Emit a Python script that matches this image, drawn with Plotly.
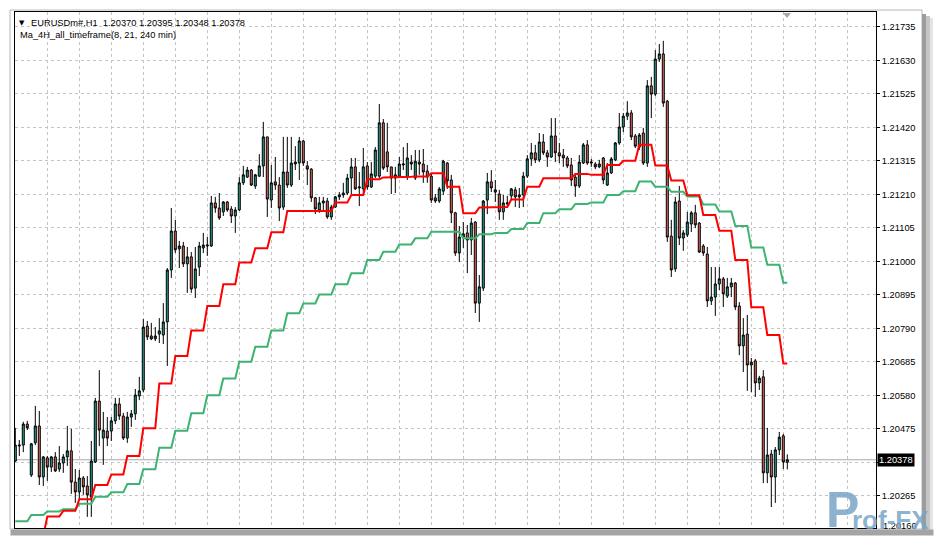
import plotly.graph_objects as go

# ---------------- data (EURUSD H1) ----------------
open_ = [1.20374, 1.20421, 1.20424, 1.20490, 1.20330, 1.20431, 1.20484, 1.20324, 1.20384, 1.20355,
         1.20387, 1.20349, 1.20368, 1.20387, 1.20406, 1.20308, 1.20277, 1.20321, 1.20296, 1.20261,
         1.20371, 1.20562, 1.20446, 1.20468, 1.20468, 1.20500, 1.20553, 1.20515, 1.20446, 1.20512,
         1.20522, 1.20578, 1.20597, 1.20797, 1.20766, 1.20757, 1.20772, 1.20769, 1.20810, 1.20973,
         1.21095, 1.21039, 1.21048, 1.20992, 1.21014, 1.20916, 1.20982, 1.21042, 1.21048, 1.21048,
         1.21183, 1.21167, 1.21155, 1.21186, 1.21164, 1.21142, 1.21161, 1.21246, 1.21264, 1.21286,
         1.21236, 1.21267, 1.21299, 1.21390, 1.21192, 1.21249, 1.21239, 1.21170, 1.21280, 1.21239,
         1.21305, 1.21308, 1.21377, 1.21299, 1.21289, 1.21199, 1.21161, 1.21183, 1.21189, 1.21139,
         1.21170, 1.21202, 1.21208, 1.21214, 1.21261, 1.21296, 1.21230, 1.21227, 1.21299, 1.21233,
         1.21267, 1.21267, 1.21434, 1.21343, 1.21296, 1.21261, 1.21267, 1.21302, 1.21264, 1.21311,
         1.21261, 1.21311, 1.21305, 1.21283, 1.21267, 1.21199, 1.21189, 1.21220, 1.21308, 1.21255,
         1.21152, 1.21026, 1.21076, 1.21089, 1.21067, 1.21123, 1.20869, 1.20916, 1.21192, 1.21249,
         1.21217, 1.21211, 1.21155, 1.21180, 1.21205, 1.21224, 1.21202, 1.21208, 1.21267, 1.21321,
         1.21340, 1.21318, 1.21374, 1.21340, 1.21327, 1.21393, 1.21340, 1.21333, 1.21324, 1.21302,
         1.21264, 1.21236, 1.21308, 1.21365, 1.21308, 1.21305, 1.21296, 1.21324, 1.21239, 1.21277,
         1.21318, 1.21371, 1.21421, 1.21455, 1.21465, 1.21393, 1.21358, 1.21402, 1.21308, 1.21550,
         1.21524, 1.21634, 1.21650, 1.21502, 1.21079, 1.20976, 1.21189, 1.21073, 1.21083, 1.21117,
         1.21152, 1.21120, 1.21048, 1.21023, 1.20876, 1.20888, 1.20929, 1.20945, 1.20891, 1.20920,
         1.20932, 1.20860, 1.20735, 1.20772, 1.20675, 1.20688, 1.20619, 1.20638, 1.20337, 1.20396,
         1.20324, 1.20409, 1.20453, 1.20370]

high = [1.20478, 1.20440, 1.20497, 1.20500, 1.20431, 1.20547, 1.20531, 1.20390, 1.20390, 1.20390,
        1.20402, 1.20421, 1.20396, 1.20484, 1.20475, 1.20349, 1.20346, 1.20327, 1.20327, 1.20437,
        1.20572, 1.20659, 1.20528, 1.20512, 1.20512, 1.20572, 1.20572, 1.20525, 1.20528, 1.20534,
        1.20600, 1.20638, 1.20819, 1.20813, 1.20807, 1.20794, 1.20822, 1.20869, 1.20979, 1.21167,
        1.21130, 1.21064, 1.21061, 1.21045, 1.21029, 1.21045, 1.21061, 1.21089, 1.21076, 1.21205,
        1.21202, 1.21214, 1.21189, 1.21189, 1.21173, 1.21170, 1.21264, 1.21299, 1.21296, 1.21289,
        1.21274, 1.21336, 1.21437, 1.21390, 1.21302, 1.21327, 1.21264, 1.21390, 1.21390, 1.21390,
        1.21361, 1.21390, 1.21380, 1.21314, 1.21292, 1.21202, 1.21202, 1.21202, 1.21199, 1.21177,
        1.21205, 1.21217, 1.21246, 1.21274, 1.21324, 1.21324, 1.21280, 1.21355, 1.21311, 1.21311,
        1.21358, 1.21493, 1.21446, 1.21434, 1.21296, 1.21296, 1.21327, 1.21358, 1.21371, 1.21333,
        1.21349, 1.21349, 1.21352, 1.21302, 1.21277, 1.21211, 1.21233, 1.21318, 1.21311, 1.21271,
        1.21155, 1.21111, 1.21123, 1.21114, 1.21136, 1.21126, 1.20957, 1.21192, 1.21277, 1.21286,
        1.21255, 1.21224, 1.21208, 1.21205, 1.21230, 1.21233, 1.21230, 1.21280, 1.21333, 1.21371,
        1.21365, 1.21402, 1.21399, 1.21349, 1.21449, 1.21449, 1.21371, 1.21352, 1.21330, 1.21324,
        1.21274, 1.21333, 1.21371, 1.21380, 1.21321, 1.21311, 1.21318, 1.21327, 1.21308, 1.21327,
        1.21374, 1.21465, 1.21465, 1.21502, 1.21474, 1.21399, 1.21402, 1.21418, 1.21568, 1.21578,
        1.21662, 1.21681, 1.21691, 1.21506, 1.21130, 1.21202, 1.21236, 1.21098, 1.21155, 1.21158,
        1.21177, 1.21123, 1.21054, 1.21045, 1.20982, 1.20982, 1.20982, 1.20951, 1.20948, 1.20948,
        1.20935, 1.20872, 1.20822, 1.20832, 1.20697, 1.20694, 1.20641, 1.20659, 1.20478, 1.20409,
        1.20418, 1.20465, 1.20459, 1.20395]

low = [1.20371, 1.20390, 1.20402, 1.20471, 1.20324, 1.20424, 1.20299, 1.20296, 1.20312, 1.20340,
       1.20340, 1.20340, 1.20337, 1.20359, 1.20271, 1.20243, 1.20252, 1.20268, 1.20199, 1.20199,
       1.20368, 1.20421, 1.20362, 1.20421, 1.20437, 1.20490, 1.20503, 1.20440, 1.20431, 1.20481,
       1.20503, 1.20565, 1.20590, 1.20753, 1.20753, 1.20750, 1.20744, 1.20741, 1.20672, 1.20948,
       1.21026, 1.20979, 1.20982, 1.20901, 1.20901, 1.20885, 1.20954, 1.21026, 1.21017, 1.21045,
       1.21152, 1.21130, 1.21142, 1.21155, 1.21120, 1.21089, 1.21158, 1.21239, 1.21261, 1.21236,
       1.21227, 1.21264, 1.21264, 1.21139, 1.21167, 1.21224, 1.21126, 1.21161, 1.21230, 1.21233,
       1.21286, 1.21255, 1.21299, 1.21239, 1.21186, 1.21148, 1.21152, 1.21161, 1.21133, 1.21130,
       1.21167, 1.21192, 1.21199, 1.21208, 1.21211, 1.21224, 1.21173, 1.21205, 1.21224, 1.21230,
       1.21261, 1.21261, 1.21286, 1.21280, 1.21211, 1.21214, 1.21261, 1.21286, 1.21255, 1.21286,
       1.21255, 1.21271, 1.21246, 1.21246, 1.21183, 1.21183, 1.21183, 1.21208, 1.21227, 1.21120,
       1.21017, 1.20998, 1.21042, 1.20963, 1.21020, 1.20838, 1.20810, 1.20907, 1.21148, 1.21217,
       1.21186, 1.21130, 1.21130, 1.21167, 1.21192, 1.21170, 1.21167, 1.21170, 1.21261, 1.21299,
       1.21308, 1.21311, 1.21333, 1.21296, 1.21324, 1.21311, 1.21308, 1.21296, 1.21292, 1.21236,
       1.21202, 1.21230, 1.21305, 1.21302, 1.21296, 1.21289, 1.21292, 1.21242, 1.21236, 1.21274,
       1.21314, 1.21365, 1.21405, 1.21443, 1.21380, 1.21355, 1.21349, 1.21302, 1.21296, 1.21449,
       1.21518, 1.21625, 1.21484, 1.21061, 1.20951, 1.20967, 1.21051, 1.21033, 1.21076, 1.21092,
       1.21104, 1.21026, 1.21017, 1.20857, 1.20863, 1.20829, 1.20910, 1.20857, 1.20885, 1.20888,
       1.20847, 1.20706, 1.20653, 1.20594, 1.20590, 1.20575, 1.20597, 1.20305, 1.20305, 1.20230,
       1.20243, 1.20393, 1.20349, 1.20348]

close = [1.20424, 1.20424, 1.20490, 1.20478, 1.20428, 1.20484, 1.20324, 1.20387, 1.20355, 1.20387,
         1.20343, 1.20368, 1.20387, 1.20406, 1.20308, 1.20277, 1.20321, 1.20293, 1.20268, 1.20374,
         1.20562, 1.20471, 1.20471, 1.20446, 1.20500, 1.20553, 1.20515, 1.20446, 1.20512, 1.20522,
         1.20581, 1.20594, 1.20794, 1.20763, 1.20757, 1.20766, 1.20782, 1.20810, 1.20973, 1.21095,
         1.21036, 1.21048, 1.20992, 1.21014, 1.20913, 1.20976, 1.21048, 1.21051, 1.21051, 1.21183,
         1.21167, 1.21136, 1.21186, 1.21161, 1.21142, 1.21161, 1.21246, 1.21271, 1.21286, 1.21239,
         1.21271, 1.21299, 1.21390, 1.21195, 1.21246, 1.21239, 1.21167, 1.21280, 1.21239, 1.21308,
         1.21311, 1.21377, 1.21308, 1.21289, 1.21199, 1.21164, 1.21183, 1.21189, 1.21139, 1.21170,
         1.21202, 1.21208, 1.21214, 1.21261, 1.21296, 1.21227, 1.21233, 1.21296, 1.21233, 1.21274,
         1.21349, 1.21434, 1.21292, 1.21296, 1.21261, 1.21271, 1.21305, 1.21305, 1.21324, 1.21305,
         1.21314, 1.21305, 1.21280, 1.21264, 1.21192, 1.21189, 1.21227, 1.21314, 1.21252, 1.21152,
         1.21026, 1.21076, 1.21086, 1.21067, 1.21120, 1.20869, 1.20920, 1.21189, 1.21249, 1.21230,
         1.21224, 1.21155, 1.21183, 1.21183, 1.21227, 1.21202, 1.21208, 1.21267, 1.21321, 1.21340,
         1.21318, 1.21374, 1.21340, 1.21327, 1.21393, 1.21340, 1.21330, 1.21324, 1.21299, 1.21255,
         1.21236, 1.21311, 1.21365, 1.21308, 1.21311, 1.21296, 1.21305, 1.21255, 1.21277, 1.21321,
         1.21371, 1.21421, 1.21455, 1.21465, 1.21390, 1.21361, 1.21396, 1.21308, 1.21550, 1.21524,
         1.21634, 1.21650, 1.21496, 1.21076, 1.20973, 1.21186, 1.21073, 1.21089, 1.21123, 1.21152,
         1.21114, 1.21029, 1.21026, 1.20876, 1.20888, 1.20929, 1.20945, 1.20898, 1.20920, 1.20932,
         1.20857, 1.20735, 1.20769, 1.20675, 1.20684, 1.20619, 1.20634, 1.20337, 1.20393, 1.20324,
         1.20409, 1.20449, 1.20371, 1.20378]

# Ma_4H_all_timeframe: one value per 4-hour block (4 H1 bars each)
ma8_4h = [1.20102, 1.20139, 1.20200, 1.20218, 1.20254, 1.20299, 1.20332, 1.20390, 1.20477, 1.20617,
          1.20703, 1.20783, 1.20860, 1.20928, 1.20996, 1.21041, 1.21091, 1.21158, 1.21158, 1.21158,
          1.21184, 1.21208, 1.21257, 1.21263, 1.21265, 1.21266, 1.21276, 1.21234, 1.21151, 1.21169,
          1.21170, 1.21194, 1.21234, 1.21260, 1.21260, 1.21274, 1.21271, 1.21302, 1.21315, 1.21365,
          1.21300, 1.21253, 1.21207, 1.21145, 1.21096, 1.21004, 1.20856, 1.20769, 1.20680]
ma21_4h = [1.20185, 1.20205, 1.20216, 1.20223, 1.20240, 1.20262, 1.20276, 1.20302, 1.20348, 1.20416,
           1.20469, 1.20524, 1.20580, 1.20633, 1.20685, 1.20732, 1.20783, 1.20837, 1.20868, 1.20896,
           1.20928, 1.20963, 1.21004, 1.21030, 1.21053, 1.21072, 1.21093, 1.21093, 1.21072, 1.21085,
           1.21089, 1.21101, 1.21120, 1.21151, 1.21163, 1.21180, 1.21184, 1.21208, 1.21220, 1.21250,
           1.21234, 1.21218, 1.21203, 1.21178, 1.21156, 1.21111, 1.21043, 1.20989, 1.20933]

price_ticks = [1.21735, 1.21630, 1.21525, 1.21420, 1.21315, 1.21210, 1.21105, 1.21000,
               1.20895, 1.20790, 1.20685, 1.20580, 1.20475, 1.20370, 1.20265]
price_tick_labels = ["1.21735", "1.21630", "1.21525", "1.21420", "1.21315", "1.21210", "1.21105",
                     "1.21000", "1.20895", "1.20790", "1.20685", "1.20580", "1.20475", "", "1.20265"]
bottom_label = "1.20160"
grid_bars = [8, 16, 24, 32, 40, 48, 56, 64, 72, 80, 88, 96, 104, 112, 120, 128,
             136, 144, 152, 160, 168, 176, 184, 192, 200, 208]
last_price = 1.20378
header_symbol = "EURUSDm#,H1\u00a0\u00a01.20370 1.20395 1.20348 1.20378"
header_indicator = "Ma_4H_all_timeframe(8, 21, 240 min)"

# ---------------- figure ----------------
W, H = 935, 540
L, R, T, B = 15, 876, 12, 528          # plot-area box in pixels
FONT = "Liberation Sans, Arial, sans-serif"
FS = 9.3


def px(x):
    return (x - L) / (R - L)


def py(y):
    return (B - y) / (B - T)


bars = list(range(len(open_)))
ma8_line = [ma8_4h[i // 4] for i in bars]
ma21_line = [ma21_4h[i // 4] for i in bars]

fig = go.Figure()
fig.add_trace(go.Candlestick(
    x=bars, open=open_, high=high, low=low, close=close,
    increasing=dict(fillcolor="#2a9f8c", line=dict(color="black", width=1)),
    decreasing=dict(fillcolor="#de6a5c", line=dict(color="black", width=1)),
    whiskerwidth=0, hoverinfo="skip", showlegend=False))
fig.add_trace(go.Scatter(x=bars, y=ma21_line, mode="lines",
                         line=dict(color="#3cb371", width=2), hoverinfo="skip", showlegend=False))
fig.add_trace(go.Scatter(x=bars, y=ma8_line, mode="lines",
                         line=dict(color="#ff0000", width=2), hoverinfo="skip", showlegend=False))

y_lo = 1.201642
y_hi = 1.217814

fig.update_layout(
    template="none",
    width=W, height=H,
    margin=dict(l=L, r=W - R, t=T, b=H - B, pad=0),
    paper_bgcolor="white", plot_bgcolor="white",
    showlegend=False, hovermode=False, boxgap=0.28,
    font=dict(family=FONT, size=FS, color="black"),
    xaxis=dict(range=[-0.075, -0.075 + (R - L) / 4.0], tickvals=grid_bars, showticklabels=False,
               ticks="", showgrid=True, gridcolor="#c4c4c4", griddash="3px,3px", gridwidth=1,
               zeroline=False, showline=True, mirror=True, linecolor="black", linewidth=1,
               rangeslider=dict(visible=False), automargin=False, fixedrange=True),
    yaxis=dict(range=[y_lo, y_hi], side="right", tickvals=price_ticks, ticktext=price_tick_labels,
               ticks="outside", ticklen=3, tickcolor="black", tickwidth=1,
               tickfont=dict(family=FONT, size=FS, color="black"),
               showgrid=True, gridcolor="#c4c4c4", griddash="3px,3px", gridwidth=1,
               zeroline=False, showline=True, mirror=True, linecolor="black", linewidth=1,
               automargin=False, fixedrange=True),
)

shapes = [
    # current price line
    dict(type="line", xref="paper", yref="y", x0=0, x1=1, y0=last_price, y1=last_price,
         line=dict(color="#a8a8a8", width=1), layer="below"),
    # chart-shift marker
    dict(type="path", xref="paper", yref="paper",
         path=f"M {px(783)} {py(13)} L {px(791)} {py(13)} L {px(787)} {py(18)} Z",
         fillcolor="#a8a8a8", line=dict(width=0), layer="above"),
    # window border
    dict(type="rect", xref="paper", yref="paper", x0=px(10), x1=px(922), y0=py(529), y1=py(10),
         line=dict(color="#b8b8b8", width=1), fillcolor="rgba(0,0,0,0)", layer="below"),
    # right shadow
    dict(type="rect", xref="paper", yref="paper", x0=px(922), x1=px(926), y0=py(536), y1=py(14),
         line=dict(width=0), fillcolor="#9c9c9c", layer="above"),
    dict(type="rect", xref="paper", yref="paper", x0=px(926), x1=px(930), y0=py(537), y1=py(16),
         line=dict(width=0), fillcolor="#c6c6c6", layer="above"),
    dict(type="rect", xref="paper", yref="paper", x0=px(930), x1=px(933), y0=py(538), y1=py(18),
         line=dict(width=0), fillcolor="#e4e4e4", layer="above"),
]
fig.update_layout(shapes=shapes)

ann = []
ann.append(dict(xref="paper", yref="paper", x=px(17), y=py(23), xanchor="left", yanchor="middle",
                text="\u25bc", showarrow=False, font=dict(family="DejaVu Sans", size=7, color="black")))
ann.append(dict(xref="paper", yref="paper", x=px(29), y=py(23), xanchor="left", yanchor="middle",
                text=header_symbol, showarrow=False, font=dict(family=FONT, size=FS, color="black")))
ann.append(dict(xref="paper", yref="paper", x=px(18), y=py(35), xanchor="left", yanchor="middle",
                text=header_indicator, showarrow=False, font=dict(family=FONT, size=FS, color="black")))
# last price box on the price scale
ann.append(dict(xref="paper", yref="y", x=1, xshift=1, y=last_price, xanchor="left", yanchor="middle",
                text=f"{last_price:.5f}", showarrow=False, bgcolor="black", borderpad=1,
                font=dict(family=FONT, size=FS, color="white")))
# partly hidden bottom label
ann.append(dict(xref="paper", yref="paper", x=px(881), y=py(526), xanchor="left", yanchor="middle",
                text=bottom_label, showarrow=False, font=dict(family=FONT, size=FS, color="black")))
# bottom shadow (covers the cut label)
ann.append(dict(xref="paper", yref="paper", x=px(10), y=py(529), xanchor="left", yanchor="top",
                text="", width=922, height=6, showarrow=False, bgcolor="#a4a4a4", borderpad=0))
ann.append(dict(xref="paper", yref="paper", x=px(10), y=py(535), xanchor="left", yanchor="top",
                text="", width=925, height=5, showarrow=False, bgcolor="#ffffff", borderpad=0))
# watermark
ann.append(dict(xref="paper", yref="paper", x=px(824), y=py(540), xanchor="left", yanchor="bottom",
                text="<b>P</b>", showarrow=False,
                font=dict(family="Liberation Sans", size=50, color="rgba(120,165,200,0.85)")))
ann.append(dict(xref="paper", yref="paper", x=px(850), y=py(537), xanchor="left", yanchor="bottom",
                text="<b>rof-FX</b>", showarrow=False,
                font=dict(family="Liberation Sans", size=26, color="rgba(120,165,200,0.85)")))
fig.update_layout(annotations=ann)

fig.write_html("out.html", config={"displayModeBar": False, "staticPlot": True},
               post_script="document.body.style.margin='0px';")
